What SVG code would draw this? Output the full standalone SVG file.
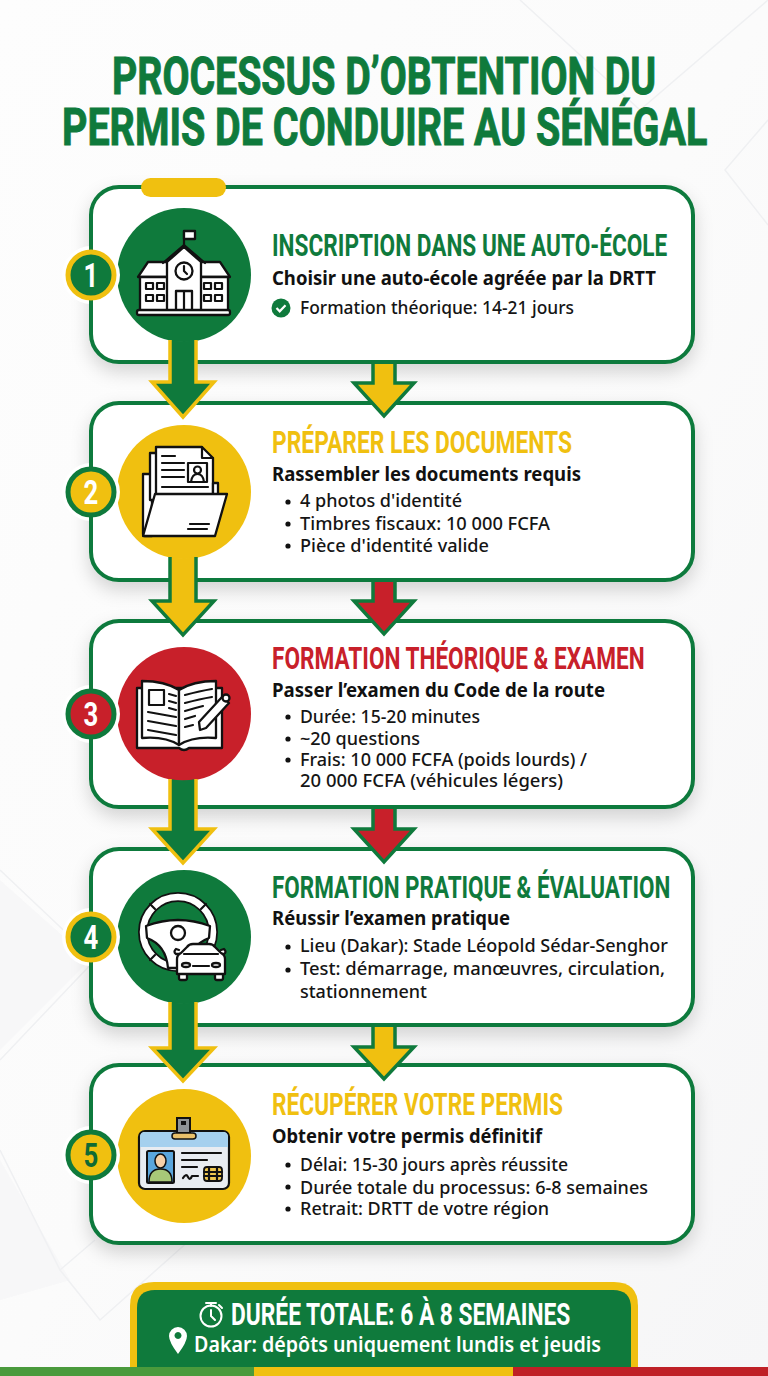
<svg xmlns="http://www.w3.org/2000/svg" width="768" height="1376" viewBox="0 0 768 1376">
<style>
.ti{font:700 52px Roboto,"Liberation Sans",sans-serif;fill:#0f7a3c;stroke:#0f7a3c;stroke-width:1}
.h{font:700 31px Roboto,"Liberation Sans",sans-serif}
.s{font:700 19px "Noto Sans","Liberation Sans",sans-serif;fill:#111}
.b{font:500 18px "Noto Sans","Liberation Sans",sans-serif;fill:#151515}
.n{font:700 33px Roboto,"Liberation Sans",sans-serif;text-anchor:middle}
.card{fill:#fff;stroke:#0f7a3c;stroke-width:4;filter:url(#sh)}
.ic{fill:#fff;stroke:#111;stroke-width:2.300;stroke-linejoin:round;stroke-linecap:round}
.il{fill:none;stroke:#111;stroke-width:2.200;stroke-linecap:round;stroke-linejoin:round}
.gy{fill:none;stroke:#f0c010;stroke-width:3.500;stroke-linejoin:miter}
.yg{fill:none;stroke:#0f7a3c;stroke-width:3.500;stroke-linejoin:miter}
.bd{stroke-width:5}
.fl{fill:none;stroke:#eff0f2;stroke-width:1.500}
.g{fill:#0f7a3c}.y{fill:#f0c010}.r{fill:#c8202a}
</style>
<defs>
<filter id="sh" x="-10%" y="-15%" width="120%" height="135%"><feDropShadow dx="0" dy="8" stdDeviation="9" flood-color="#000" flood-opacity=".16"/></filter>
<linearGradient id="bg" x1="0" y1="0" x2="1" y2="1"><stop offset="0" stop-color="#fdfdfd"/><stop offset=".5" stop-color="#fbfbfb"/><stop offset="1" stop-color="#f6f6f7"/></linearGradient>
</defs>
<rect width="768" height="1376" fill="url(#bg)"/>
<g id="background">
<path class="fl" d="M768 120L725 170L768 225M520 0L640 110L768 0M0 870L95 960L0 1060M60 1270L95 1240M0 1150L60 1270L100 1320L190 1240"/>
<path d="M0 880L90 960L0 1050Z M0 1160L70 1280L0 1300Z" fill="#f1f1f3" opacity=".45"/>
</g>
<g id="title">
<text class="ti" transform="translate(112 94) scale(.76 1)" textLength="716" lengthAdjust="spacingAndGlyphs">PROCESSUS D’OBTENTION DU</text>
<text class="ti" transform="translate(62 145) scale(.76 1)" textLength="849" lengthAdjust="spacingAndGlyphs">PERMIS DE CONDUIRE AU SÉNÉGAL</text>
</g>

<g id="step-1">
<rect class="card" x="91" y="187" width="602" height="175" rx="28"/>
<rect x="141" y="178" width="85" height="19" rx="9.500" fill="#f0c010"/>
<circle class="g" cx="184" cy="275" r="67"/>
<g>
<path class="il" d="M184 250V231"/><path class="ic" d="M184 231h11v8h-11z"/>
<path class="ic" d="M138 277l10-15h24v15zM230 277l-10-15h-24v15z"/>
<rect class="ic" x="140" y="277" width="32" height="34"/><rect class="ic" x="196" y="277" width="32" height="34"/>
<path class="ic" d="M167 262L184 247L201 262V311H167Z"/>
<path class="il" d="M163 263L184 245L205 263"/>
<circle class="ic" cx="184" cy="271" r="8.500"/><path class="il" d="M184 266v5l3 3" stroke-width="1.600"/>
<path class="ic" d="M176 311V291h16v20z"/><path class="il" d="M184 291v20"/>
<path class="il" stroke-width="1.800" d="M146 283h7v6h-7zM157 283h7v6h-7zM146 295h7v6h-7zM157 295h7v6h-7zM204 283h7v6h-7zM215 283h7v6h-7zM204 295h7v6h-7zM215 295h7v6h-7z"/>
<rect class="ic" x="137" y="310" width="93" height="5" rx="2"/>
</g>
<circle cx="91" cy="275" r="29" fill="#fff"/><path d="M91 245V305" stroke="#0f7a3c" stroke-width="4"/>
<circle class="bd" cx="91" cy="275" r="23" fill="#0f7a3c" stroke="#f0c010"/>
<text class="n" transform="translate(91 287) scale(.78 1)" fill="#fff">1</text>
<text class="h g" transform="translate(272 256) scale(.75 1)" textLength="527" lengthAdjust="spacingAndGlyphs">INSCRIPTION DANS UNE AUTO-ÉCOLE</text>
<text class="s" x="272" y="285" textLength="384" lengthAdjust="spacingAndGlyphs">Choisir une auto-école agréée par la DRTT</text>
<circle class="g" cx="281" cy="308" r="9.500"/><path d="M276.500 308l3.200 3.300 5.800-6" fill="none" stroke="#fff" stroke-width="2.200"/>
<text class="b" x="300" y="314" textLength="274" lengthAdjust="spacingAndGlyphs">Formation théorique: 14-21 jours</text>
</g>

<g id="step-2">
<rect class="card" x="91" y="403" width="602" height="177" rx="28"/>
<circle class="y" cx="184" cy="492" r="67"/>
<path class="ic" d="M143 474H152V536H145Q143 536 143 534Z"/>
<path class="ic" d="M150 453H158V500H150Z"/>
<path class="ic" d="M156 447H202L213 458V502H156Z"/>
<path class="il" d="M202 447V458H213M162 456h13M162 463h22M162 470h22M162 477h22M162 487h46"/>
<rect class="il" x="188" y="463" width="19" height="19"/>
<circle class="il" cx="197.500" cy="470" r="3.500"/><path class="il" d="M191 482q1-8 6.500-8t6.500 8"/>
<path class="ic" d="M213 483h5v16h-5z"/>
<path class="ic" d="M155 494H227L215 536H143Z"/>
<path class="il" d="M190 524h19M188 529h19"/>
<circle cx="91" cy="492" r="29" fill="#fff"/><path d="M91 462V522" stroke="#0f7a3c" stroke-width="4"/>
<circle class="bd" cx="91" cy="492" r="23" fill="#f0c010" stroke="#0f7a3c"/>
<text class="n" transform="translate(91 504) scale(.78 1)" fill="#fff">2</text>
<text class="h y" transform="translate(272 453) scale(.75 1)" textLength="400" lengthAdjust="spacingAndGlyphs">PRÉPARER LES DOCUMENTS</text>
<text class="s" x="272" y="481" textLength="309" lengthAdjust="spacingAndGlyphs">Rassembler les documents requis</text>
<g fill="#111"><circle cx="288" cy="502" r="2.600"/><circle cx="288" cy="524" r="2.600"/><circle cx="288" cy="546" r="2.600"/></g>
<text class="b" x="300" y="507" textLength="162" lengthAdjust="spacingAndGlyphs">4 photos d'identité</text>
<text class="b" x="300" y="530" textLength="250" lengthAdjust="spacingAndGlyphs">Timbres fiscaux: 10 000 FCFA</text>
<text class="b" x="300" y="552" textLength="189" lengthAdjust="spacingAndGlyphs">Pièce d'identité valide</text>
</g>

<g id="step-3">
<rect class="card" x="91" y="621" width="602" height="186" rx="28"/>
<circle class="r" cx="184" cy="714" r="67"/>
<path class="ic" d="M137 688H222V748H189Q184 752 179 748H137Z"/>
<path class="ic" d="M142 681Q165 681 179 690V745Q165 736 142 738Z"/>
<path class="ic" d="M216 681Q193 681 179 690V745Q193 736 216 738Z"/>
<path class="il" d="M149 690h15v15h-15zM169 694l7 2M169 701l7 2M169 708l7 2M148 712l28 5M148 721l28 5M148 730l28 5M185 695q15-4 27-6M185 703q15-4 27-6M185 711q10-3 18-5M185 719l10-3M185 727l8-2"/>
<path class="ic" d="M200 730L199 722L222 697L229 703L206 728Z"/>
<circle class="ic" cx="226" cy="698" r="3.500"/>
<circle cx="91" cy="714" r="29" fill="#fff"/><path d="M91 684V744" stroke="#0f7a3c" stroke-width="4"/>
<circle class="bd" cx="91" cy="714" r="23" fill="#c8202a" stroke="#0f7a3c"/>
<text class="n" transform="translate(91 726) scale(.78 1)" fill="#fff">3</text>
<text class="h r" transform="translate(272 669) scale(.75 1)" textLength="497" lengthAdjust="spacingAndGlyphs">FORMATION THÉORIQUE &amp; EXAMEN</text>
<text class="s" x="272" y="697" textLength="333" lengthAdjust="spacingAndGlyphs">Passer l’examen du Code de la route</text>
<g fill="#111"><circle cx="288" cy="717" r="2.600"/><circle cx="288" cy="739" r="2.600"/><circle cx="288" cy="760" r="2.600"/></g>
<text class="b" x="300" y="723" textLength="180" lengthAdjust="spacingAndGlyphs">Durée: 15-20 minutes</text>
<text class="b" x="300" y="745" textLength="120" lengthAdjust="spacingAndGlyphs">~20 questions</text>
<text class="b" x="300" y="766" textLength="287" lengthAdjust="spacingAndGlyphs">Frais: 10 000 FCFA (poids lourds) /</text>
<text class="b" x="300" y="787" textLength="263" lengthAdjust="spacingAndGlyphs">20 000 FCFA (véhicules légers)</text>
</g>

<g id="step-4">
<rect class="card" x="91" y="849" width="602" height="176" rx="28"/>
<circle class="g" cx="184" cy="937" r="67"/>
<circle cx="178" cy="932" r="35" fill="none" stroke="#111" stroke-width="10"/>
<circle cx="178" cy="932" r="35" fill="none" stroke="#fff" stroke-width="6.500"/>
<path class="ic" d="M146 926Q178 914 210 926L209 938Q190 945 188 968H168Q166 945 147 938Z"/>
<circle class="ic" cx="178" cy="933" r="7"/>
<path class="il" d="M155 909l-5-5M201 909l5-5M155 955l-5 5"/>
<rect class="ic" x="179" y="972" width="8" height="8" rx="2"/><rect class="ic" x="215" y="972" width="8" height="8" rx="2"/>
<path class="ic" d="M179 950l-3-1q-3 3 0 5h4M221 950l3-1q3 3 0 5h-4"/>
<path class="ic" d="M177 974V959Q177 955 181 953L187 947Q189 944 193 944H209Q213 944 215 947L221 953Q225 955 225 959V974Z"/>
<path class="il" d="M184 954H218M193 966h16"/>
<ellipse class="ic" cx="186" cy="965" rx="4" ry="2"/><ellipse class="ic" cx="216" cy="965" rx="4" ry="2"/>
<circle cx="91" cy="937" r="29" fill="#fff"/><path d="M91 907V967" stroke="#0f7a3c" stroke-width="4"/>
<circle class="bd" cx="91" cy="937" r="23" fill="#0f7a3c" stroke="#f0c010"/>
<text class="n" transform="translate(91 949) scale(.78 1)" fill="#fff">4</text>
<text class="h g" transform="translate(272 898) scale(.75 1)" textLength="531" lengthAdjust="spacingAndGlyphs">FORMATION PRATIQUE &amp; ÉVALUATION</text>
<text class="s" x="272" y="925" textLength="238" lengthAdjust="spacingAndGlyphs">Réussir l’examen pratique</text>
<g fill="#111"><circle cx="288" cy="947" r="2.600"/><circle cx="288" cy="970" r="2.600"/></g>
<text class="b" x="300" y="952" textLength="368" lengthAdjust="spacingAndGlyphs">Lieu (Dakar): Stade Léopold Sédar-Senghor</text>
<text class="b" x="300" y="975" textLength="365" lengthAdjust="spacingAndGlyphs">Test: démarrage, manœuvres, circulation,</text>
<text class="b" x="300" y="998" textLength="127" lengthAdjust="spacingAndGlyphs">stationnement</text>
</g>

<g id="step-5">
<rect class="card" x="91" y="1065" width="602" height="178" rx="28"/>
<circle class="y" cx="184" cy="1156" r="67"/>
<rect x="139" y="1131" width="90" height="58" rx="6" fill="#e8ecf1" stroke="#111" stroke-width="2.200"/>
<path d="M140 1147V1137q0-5 5-5H223q5 0 5 5V1147Z" fill="#a5d0ee"/>
<rect x="177" y="1118" width="13" height="15" fill="#8f9396" stroke="#111" stroke-width="2"/>
<rect x="172" y="1133" width="24" height="6" rx="3" fill="#e8c06a" stroke="#111" stroke-width="1.500"/>
<rect x="181" y="1121" width="5" height="4" fill="#111"/>
<rect x="147" y="1151" width="27" height="32" rx="1.500" fill="#5aa6dc" stroke="#111" stroke-width="2"/>
<path d="M149 1182q0-13 11.500-13t11.500 13z" fill="#a8c878" stroke="#111" stroke-width="1.500"/>
<ellipse cx="160.500" cy="1161" rx="5.500" ry="7" fill="#f6d0a8" stroke="#111" stroke-width="1.500"/>
<path class="il" d="M182 1153h39M182 1160h25M182 1167h15" stroke-width="1.800"/>
<path class="il" d="M183 1178q3-5 5-1t4-1h6" stroke-width="1.600"/>
<rect x="204" y="1167" width="18" height="14" rx="3" fill="#f0c850" stroke="#111" stroke-width="1.800"/>
<path class="il" d="M209 1167v14M217 1167v14M204 1172h18M204 1176h18" stroke-width="1.300"/>
<circle cx="91" cy="1155" r="29" fill="#fff"/><path d="M91 1125V1185" stroke="#0f7a3c" stroke-width="4"/>
<circle class="bd" cx="91" cy="1155" r="23" fill="#f0c010" stroke="#0f7a3c"/>
<text class="n" transform="translate(91 1167) scale(.78 1)" fill="#0f6a34">5</text>
<text class="h y" transform="translate(272 1115) scale(.75 1)" textLength="388" lengthAdjust="spacingAndGlyphs">RÉCUPÉRER VOTRE PERMIS</text>
<text class="s" x="272" y="1143" textLength="270" lengthAdjust="spacingAndGlyphs">Obtenir votre permis définitif</text>
<g fill="#111"><circle cx="288" cy="1165" r="2.600"/><circle cx="288" cy="1187" r="2.600"/><circle cx="288" cy="1209" r="2.600"/></g>
<text class="b" x="300" y="1171" textLength="268" lengthAdjust="spacingAndGlyphs">Délai: 15-30 jours après réussite</text>
<text class="b" x="300" y="1194" textLength="348" lengthAdjust="spacingAndGlyphs">Durée totale du processus: 6-8 semaines</text>
<text class="b" x="300" y="1215" textLength="249" lengthAdjust="spacingAndGlyphs">Retrait: DRTT de votre région</text>
</g>

<g id="connectors">
<path class="g" d="M170 340V382H152L183 417L214 382H196V340A67 67 0 0 1 170 340Z"/>
<path class="gy" d="M170 340V382H152L183 417L214 382H196V340"/>
<path class="y" d="M170 557V601H152L183 635L214 601H196V557A67 67 0 0 1 170 557Z"/>
<path class="yg" d="M170 557V601H152L183 635L214 601H196V557"/>
<path class="g" d="M170 779V829H152L183 863L214 829H196V779A67 67 0 0 1 170 779Z"/>
<path class="gy" d="M170 779V829H152L183 863L214 829H196V779"/>
<path class="g" d="M170 1002V1048H152L183 1081L214 1048H196V1002A67 67 0 0 1 170 1002Z"/>
<path class="gy" d="M170 1002V1048H152L183 1081L214 1048H196V1002"/>
<path class="y" d="M373 364V383H354L384 416L414 383H395V364Z"/>
<path class="yg" d="M373 362V383H354L384 416L414 383H395V362"/>
<path class="r" d="M373 582V601H354L384 634L414 601H395V582Z"/>
<path class="yg" d="M373 580V601H354L384 634L414 601H395V580"/>
<path class="r" d="M373 809V829H354L384 862L414 829H395V809Z"/>
<path class="yg" d="M373 807V829H354L384 862L414 829H395V807"/>
<path class="y" d="M373 1027V1047H354L384 1079L414 1047H395V1027Z"/>
<path class="yg" d="M373 1025V1047H354L384 1079L414 1047H395V1025"/>
</g>

<g id="footer">
<path d="M130 1376V1306Q130 1282 154 1282H614Q638 1282 638 1306V1376Z" fill="#f0c010"/>
<path d="M137 1376V1308Q137 1290 155 1290H613Q631 1290 631 1308V1376Z" fill="#0f7a3c"/>
<circle cx="211" cy="1316" r="10.500" fill="none" stroke="#fff" stroke-width="2"/>
<path d="M206 1303h10M211 1303v3M219 1305l3 3M211 1310v6l4 4" fill="none" stroke="#fff" stroke-width="2" stroke-linecap="round"/>
<text transform="translate(231 1325) scale(.78 1)" textLength="435" lengthAdjust="spacingAndGlyphs" style="font:700 31px Roboto,'Liberation Sans',sans-serif;fill:#fff">DURÉE TOTALE: 6 À 8 SEMAINES</text>
<path fill-rule="evenodd" d="M178 1354Q169 1342 169 1336A9 9 0 0 1 187 1336Q187 1342 178 1354ZM178 1332a3.500 3.500 0 1 0 .01 0Z" fill="#fff"/>
<text x="194" y="1352" textLength="407" lengthAdjust="spacingAndGlyphs" style="font:600 21px 'Noto Sans','Liberation Sans',sans-serif;fill:#fff">Dakar: dépôts uniquement lundis et jeudis</text>
<rect x="0" y="1367" width="254" height="9" fill="#4a9a3c"/>
<rect x="254" y="1367" width="259" height="9" fill="#f0c010"/>
<rect x="513" y="1367" width="255" height="9" fill="#bf2026"/>
</g>
</svg>
